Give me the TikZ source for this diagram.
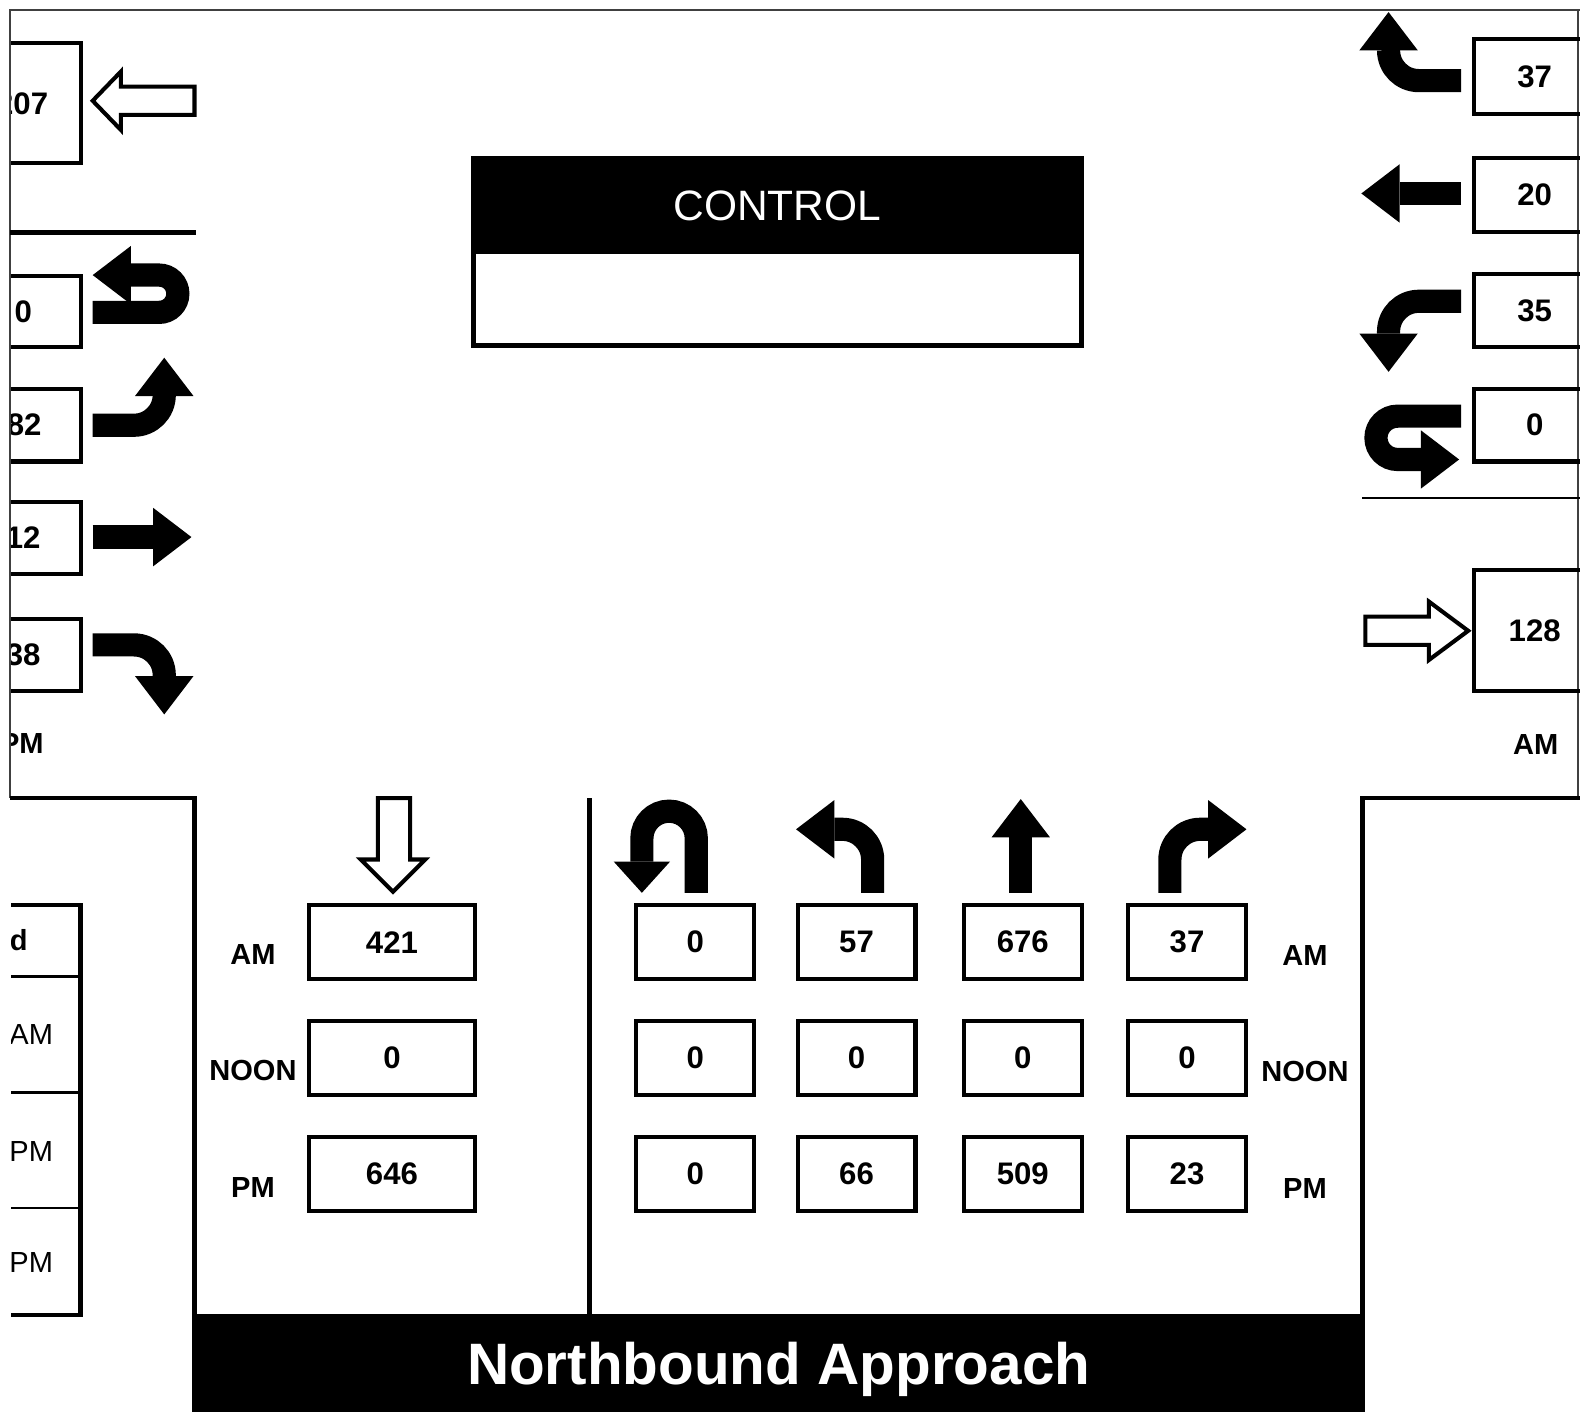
\documentclass[tikz,border=0pt]{standalone}
\usepackage{fontspec}
\setmainfont{Liberation Sans}
\usetikzlibrary{arrows.meta}

\newcommand{\volfont}{\fontsize{8.8pt}{10pt}\selectfont\bfseries}
\newcommand{\tagfont}{\fontsize{8.2pt}{10pt}\selectfont\bfseries}
\newcommand{\plainfont}{\fontsize{8.2pt}{10pt}\selectfont}

\begin{document}
\begin{tikzpicture}[line join=miter,
  vol/.style={draw,line width=1.15pt,minimum width=1.17cm,minimum height=0.73cm,inner sep=0pt,font=\volfont},
  volwide/.style={vol,minimum width=1.64cm},
  tag/.style={inner sep=0pt,font=\tagfont},
  fat/.style={line width=0.23cm,-{Triangle[length=0.38cm,width=0.58cm,line width=0pt]}},
  hollow/.style={draw,line width=1.15pt,fill=white},
  scanline/.style={black!75,line width=0.4pt},
  edge/.style={line width=1.3pt}]
\useasboundingbox (0,0) rectangle (15.68,14.02);
\clip (0,0) rectangle (15.68,14.02);
% frame of the scan
\draw[scanline] (0.10,6.10) -- (0.10,13.92) -- (15.68,13.92);
\draw[scanline] (15.66,13.92) -- (15.66,6.10);
% road edges
\draw[edge] (0.10,11.71) -- (1.95,11.71);
\draw[line width=0.6pt] (13.52,9.08) -- (15.68,9.08);
\draw[edge] (0.10,6.10) -- (1.93,6.10) -- (1.93,0.97);
\draw[edge] (15.68,6.10) -- (13.52,6.10) -- (13.52,0.97);
\draw[edge] (5.85,6.10) -- (5.85,0.97);
% control box
\node[draw,line width=1.3pt,minimum width=6.03cm,minimum height=1.86cm,inner sep=0pt] (ctrlbox) at (7.715,11.52) {};
\node[fill=black,text=white,minimum width=6.07cm,minimum height=0.97cm,inner sep=0pt,anchor=north,
  font=\fontsize{12pt}{14pt}\selectfont] (ctrlhead) at (ctrlbox.north) {CONTROL};
% west leg, cut at the scan border
\begin{scope}
\clip (0.11,0) rectangle (15.68,14.02);
\node[vol,minimum width=1.16cm,minimum height=1.19cm] (westexit) at (0.22,12.995) {207};
\node[vol,minimum width=1.14cm,minimum height=0.70cm] (westu) at (0.23,10.93) {0};
\node[vol,minimum width=1.12cm,minimum height=0.72cm] (westl) at (0.24,9.80) {82};
\node[vol,minimum width=1.14cm,minimum height=0.72cm] (westt) at (0.23,8.68) {12};
\node[vol,minimum width=1.14cm,minimum height=0.72cm] (westr) at (0.23,7.52) {38};
\node[tag,anchor=east] (westpm) at (0.44,6.64) {PM};
\draw[edge] (0.11,5.04) -- (0.80,5.04) -- (0.80,0.97) -- (0.11,0.97);
\draw[line width=0.7pt] (0.11,4.33) -- (0.80,4.33) (0.11,3.18) -- (0.80,3.18) (0.11,2.03) -- (0.80,2.03);
\node[tag] (tbld) at (0.185,4.69) {d};
\node[inner sep=0pt,font=\plainfont] (tblam) at (0.31,3.75) {AM};
\node[inner sep=0pt,font=\plainfont] (tblpm) at (0.31,2.59) {PM};
\node[inner sep=0pt,font=\plainfont] (tblpmb) at (0.31,1.49) {PM};
\end{scope}
\draw[hollow] (0.92,13.02) -- (1.20,13.31) -- (1.20,13.16) -- (1.93,13.16) -- (1.93,12.88)
  -- (1.20,12.88) -- (1.20,12.73) -- cycle;
\draw[fat] (0.92,10.92) -- (1.58,10.92) arc[start angle=-90,end angle=90,radius=0.185] -- (0.92,11.29);
\draw[fat,rounded corners=0.3cm] (0.92,9.80) -| (1.63,10.47);
\draw[fat] (0.92,8.69) -- (1.90,8.69);
\draw[fat,rounded corners=0.3cm] (0.92,7.62) -| (1.63,6.93);
% east leg
\node[vol,minimum width=1.20cm,minimum height=0.75cm] (eastr) at (15.23,13.26) {37};
\node[vol,minimum width=1.20cm,minimum height=0.73cm] (eastt) at (15.23,12.085) {20};
\node[vol,minimum width=1.20cm,minimum height=0.72cm] (eastl) at (15.23,10.94) {35};
\node[vol,minimum width=1.20cm,minimum height=0.72cm] (eastu) at (15.23,9.80) {0};
\node[vol,minimum width=1.20cm,minimum height=1.20cm] (eastexit) at (15.23,7.76) {128};
\node[tag] (eastam) at (15.24,6.63) {AM};
\draw[fat,rounded corners=0.3cm] (14.50,13.22) -| (13.78,13.90);
\draw[fat] (14.50,12.10) -- (13.51,12.10);
\draw[fat,rounded corners=0.3cm] (14.50,11.03) -| (13.78,10.33);
\draw[fat] (14.50,9.89) -- (13.87,9.89) arc[start angle=90,end angle=270,radius=0.215] -- (14.48,9.46);
\draw[hollow] (14.57,7.76) -- (14.18,8.05) -- (14.18,7.90) -- (13.55,7.90) -- (13.55,7.62)
  -- (14.18,7.62) -- (14.18,7.47) -- cycle;
% north leg, outbound
\draw[hollow] (3.75,6.10) -- (4.07,6.10) -- (4.07,5.49) -- (4.22,5.49) -- (3.90,5.17)
  -- (3.58,5.49) -- (3.75,5.49) -- cycle;
\node[volwide] (sbam) at (3.89,4.67) {421};
\node[volwide] (sbnoon) at (3.89,3.52) {0};
\node[volwide] (sbpm) at (3.89,2.37) {646};
\node[tag] (lblam) at (2.51,4.55) {AM};
\node[tag] (lblnoon) at (2.51,3.40) {NOON};
\node[tag] (lblpm) at (2.51,2.24) {PM};
% north leg, approach
\draw[fat,-{Triangle[length=0.31cm,width=0.56cm,line width=0pt]}] (6.91,5.16) -- (6.91,5.70)
  arc[start angle=0,end angle=180,radius=0.27] -- (6.37,5.16);
\draw[fat,rounded corners=0.3cm] (8.66,5.16) |- (7.90,5.79);
\draw[fat] (10.13,5.16) -- (10.13,6.09);
\draw[fat,rounded corners=0.3cm] (11.61,5.16) |- (12.37,5.79);
\node[vol] (nbuam) at (6.90,4.67) {0};
\node[vol] (nblam) at (8.50,4.67) {57};
\node[vol] (nbtam) at (10.15,4.67) {676};
\node[vol] (nbram) at (11.78,4.67) {37};
\node[vol] (nbunoon) at (6.90,3.52) {0};
\node[vol] (nblnoon) at (8.50,3.52) {0};
\node[vol] (nbtnoon) at (10.15,3.52) {0};
\node[vol] (nbrnoon) at (11.78,3.52) {0};
\node[vol] (nbupm) at (6.90,2.37) {0};
\node[vol] (nblpm) at (8.50,2.37) {66};
\node[vol] (nbtpm) at (10.15,2.37) {509};
\node[vol] (nbrpm) at (11.78,2.37) {23};
\node[tag] (rlblam) at (12.95,4.54) {AM};
\node[tag] (rlblnoon) at (12.95,3.39) {NOON};
\node[tag] (rlblpm) at (12.95,2.23) {PM};
% title
\node[fill=black,text=white,minimum width=11.64cm,minimum height=0.97cm,inner sep=0pt,anchor=south west,
  text depth=0pt,font=\fontsize{16.5pt}{19pt}\selectfont\bfseries] (nbtitle) at (1.90,0) {Northbound Approach};
\end{tikzpicture}
\end{document}
